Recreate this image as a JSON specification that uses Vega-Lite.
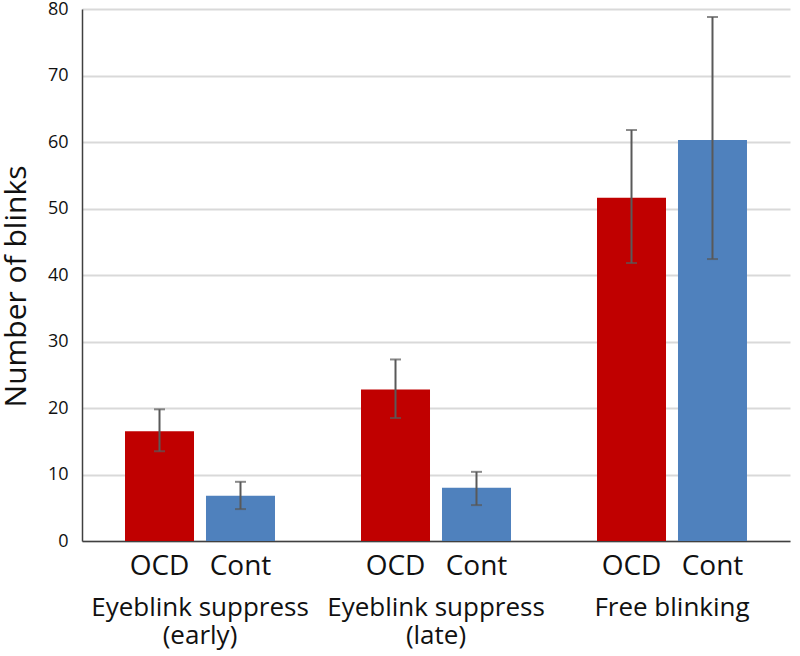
{
  "$schema": "https://vega.github.io/schema/vega-lite/v6.json",
  "width": 708,
  "height": 532,
  "autosize": {"type": "none"},
  "padding": {"left": 82, "top": 9, "right": 10, "bottom": 115},
  "background": "white",
  "config": {
    "font": "Open Sans",
    "view": {"stroke": null},
    "axis": {"labelColor": "#111111", "titleColor": "#111111"},
    "axisY": {
      "titleFontSize": 30,
      "titleFontWeight": "normal",
      "titlePadding": 16,
      "titleY": 277,
      "labelFontSize": 18,
      "labelPadding": 14,
      "labelOverlap": false,
      "ticks": false,
      "domainColor": "#404040",
      "domainWidth": 1.5,
      "gridColor": "#d9d9d9",
      "gridWidth": 2
    }
  },
  "data": {
    "values": [
      {"condition": "Eyeblink suppress (early)", "group": "OCD", "blinks": 16.5, "lo": 13.5, "hi": 19.8},
      {"condition": "Eyeblink suppress (early)", "group": "Cont", "blinks": 6.8, "lo": 4.8, "hi": 8.9},
      {"condition": "Eyeblink suppress (late)", "group": "OCD", "blinks": 22.8, "lo": 18.5, "hi": 27.3},
      {"condition": "Eyeblink suppress (late)", "group": "Cont", "blinks": 8.0, "lo": 5.4, "hi": 10.4},
      {"condition": "Free blinking", "group": "OCD", "blinks": 51.6, "lo": 41.8, "hi": 61.8},
      {"condition": "Free blinking", "group": "Cont", "blinks": 60.3, "lo": 42.4, "hi": 78.8}
    ]
  },
  "encoding": {
    "x": {
      "field": "condition",
      "type": "nominal",
      "sort": null,
      "scale": {"paddingInner": 0, "paddingOuter": 0},
      "axis": {
        "title": null,
        "ticks": false,
        "domainColor": "#404040",
        "domainWidth": 1.5,
        "labelAngle": 0,
        "labelFontSize": 26,
        "labelBaseline": "alphabetic",
        "labelPadding": 74,
        "labelLineHeight": 28,
        "labelLimit": 400,
        "labelOverlap": false,
        "labelExpr": "indexof(datum.label, ' (') > 0 ? [substring(datum.label, 0, indexof(datum.label, ' (')), substring(datum.label, indexof(datum.label, '(') + 0)] : datum.label"
      }
    },
    "xOffset": {
      "field": "group",
      "type": "nominal",
      "sort": ["OCD", "Cont"],
      "scale": {"paddingInner": 0.148, "paddingOuter": 0.531}
    }
  },
  "layer": [
    {
      "mark": {"type": "bar"},
      "encoding": {
        "y": {
          "field": "blinks",
          "type": "quantitative",
          "scale": {"domain": [0, 80], "nice": false},
          "axis": {
            "title": "Number of blinks",
            "values": [0, 10, 20, 30, 40, 50, 60, 70, 80]
          }
        },
        "color": {
          "field": "group",
          "type": "nominal",
          "scale": {"domain": ["OCD", "Cont"], "range": ["#C00000", "#4F81BD"]},
          "legend": null
        }
      }
    },
    {
      "mark": {"type": "rule", "color": "#595959", "strokeWidth": 2},
      "encoding": {
        "y": {"field": "lo", "type": "quantitative", "axis": {"title": "Number of blinks", "values": [0, 10, 20, 30, 40, 50, 60, 70, 80]}},
        "y2": {"field": "hi"}
      }
    },
    {
      "mark": {"type": "tick", "color": "#595959", "thickness": 2, "size": 11, "orient": "horizontal"},
      "encoding": {
        "y": {"field": "lo", "type": "quantitative", "axis": {"title": "Number of blinks", "values": [0, 10, 20, 30, 40, 50, 60, 70, 80]}}
      }
    },
    {
      "mark": {"type": "tick", "color": "#595959", "thickness": 2, "size": 11, "orient": "horizontal"},
      "encoding": {
        "y": {"field": "hi", "type": "quantitative", "axis": {"title": "Number of blinks", "values": [0, 10, 20, 30, 40, 50, 60, 70, 80]}}
      }
    },
    {
      "mark": {"type": "text", "fontSize": 28, "baseline": "alphabetic", "dy": 34, "color": "#111111"},
      "encoding": {
        "y": {"datum": 0, "axis": {"title": "Number of blinks", "values": [0, 10, 20, 30, 40, 50, 60, 70, 80]}},
        "text": {"field": "group"}
      }
    }
  ]
}
